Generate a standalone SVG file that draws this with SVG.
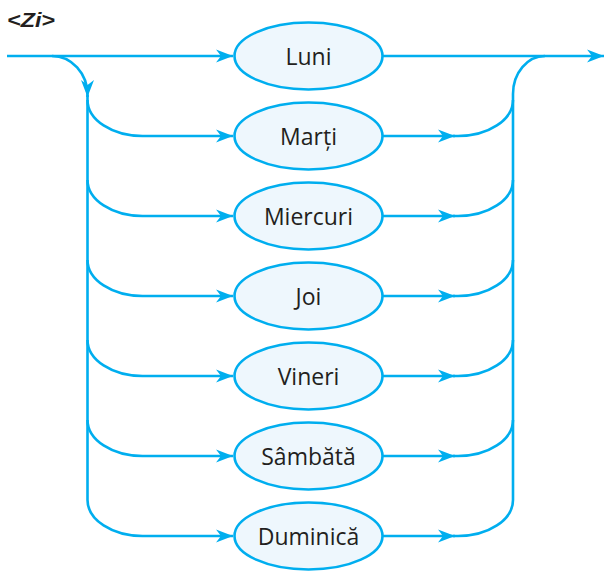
<svg xmlns="http://www.w3.org/2000/svg" width="606" height="572" viewBox="0 0 606 572">
<style>
.c{fill:none;stroke:#00AEEF;stroke-width:2.6}
.n ellipse{fill:#EEF7FD;stroke:#00AEEF;stroke-width:2.6}
.n text{font-family:"Open Sans","Noto Sans",sans-serif;font-size:23px;fill:#231F20;text-anchor:middle}
.t{font-family:"Liberation Sans","Arial",sans-serif;font-size:19.5px;font-weight:bold;font-style:italic;fill:#231F20}
</style>
<defs>
<marker id="a" markerWidth="18" markerHeight="14" refX="17" refY="7" orient="auto" markerUnits="userSpaceOnUse" viewBox="0 0 18 14">
<path d="M0,0.5 L17,7 L0,13.5 L5,7 Z" fill="#00AEEF"/>
</marker>
</defs>
<rect width="606" height="572" fill="#fff"/>
<text class="t" x="7" y="26.5" textLength="48" lengthAdjust="spacingAndGlyphs">&lt;Zi&gt;</text>
<g id="connectors">
<path class="c" d="M7 56 H233" marker-end="url(#a)"/>
<path class="c" d="M383 56 H604" marker-end="url(#a)"/>
<path class="c" d="M52 56 A35.5 39 0 0 1 87.5 95 V97" marker-end="url(#a)"/>
<path class="c" d="M87.5 95 V500"/>
<path class="c" d="M513 500 V94 A32 38 0 0 1 545 56"/>
<path class="c" d="M87.5 100 A55 36 0 0 0 142.5 136 H233" marker-end="url(#a)"/>
<path class="c" d="M87.5 180 A55 36 0 0 0 142.5 216 H233" marker-end="url(#a)"/>
<path class="c" d="M87.5 260 A55 36 0 0 0 142.5 296 H233" marker-end="url(#a)"/>
<path class="c" d="M87.5 340 A55 36 0 0 0 142.5 376 H233" marker-end="url(#a)"/>
<path class="c" d="M87.5 420 A55 36 0 0 0 142.5 456 H233" marker-end="url(#a)"/>
<path class="c" d="M87.5 500 A55 36 0 0 0 142.5 536 H233" marker-end="url(#a)"/>
<path class="c" d="M383 136 H455" marker-end="url(#a)"/>
<path class="c" d="M383 216 H455" marker-end="url(#a)"/>
<path class="c" d="M383 296 H455" marker-end="url(#a)"/>
<path class="c" d="M383 376 H455" marker-end="url(#a)"/>
<path class="c" d="M383 456 H455" marker-end="url(#a)"/>
<path class="c" d="M383 536 H455" marker-end="url(#a)"/>
<path class="c" d="M453 136 H458 A55 36 0 0 0 513 100"/>
<path class="c" d="M453 216 H458 A55 36 0 0 0 513 180"/>
<path class="c" d="M453 296 H458 A55 36 0 0 0 513 260"/>
<path class="c" d="M453 376 H458 A55 36 0 0 0 513 340"/>
<path class="c" d="M453 456 H458 A55 36 0 0 0 513 420"/>
<path class="c" d="M453 536 H458 A55 36 0 0 0 513 500"/>
</g>
<g id="luni" class="n"><ellipse cx="308.5" cy="56" rx="74" ry="33.5"/><text x="308.5" y="64.5">Luni</text></g>
<g id="marti" class="n"><ellipse cx="308.5" cy="136" rx="74" ry="33.5"/><text x="308.5" y="144.5">Marți</text></g>
<g id="miercuri" class="n"><ellipse cx="308.5" cy="216" rx="74" ry="33.5"/><text x="308.5" y="224.5">Miercuri</text></g>
<g id="joi" class="n"><ellipse cx="308.5" cy="296" rx="74" ry="33.5"/><text x="308.5" y="304.5">Joi</text></g>
<g id="vineri" class="n"><ellipse cx="308.5" cy="376" rx="74" ry="33.5"/><text x="308.5" y="384.5">Vineri</text></g>
<g id="sambata" class="n"><ellipse cx="308.5" cy="456" rx="74" ry="33.5"/><text x="308.5" y="464.5">Sâmbătă</text></g>
<g id="duminica" class="n"><ellipse cx="308.5" cy="536" rx="74" ry="33.5"/><text x="308.5" y="544.5">Duminică</text></g>
</svg>
